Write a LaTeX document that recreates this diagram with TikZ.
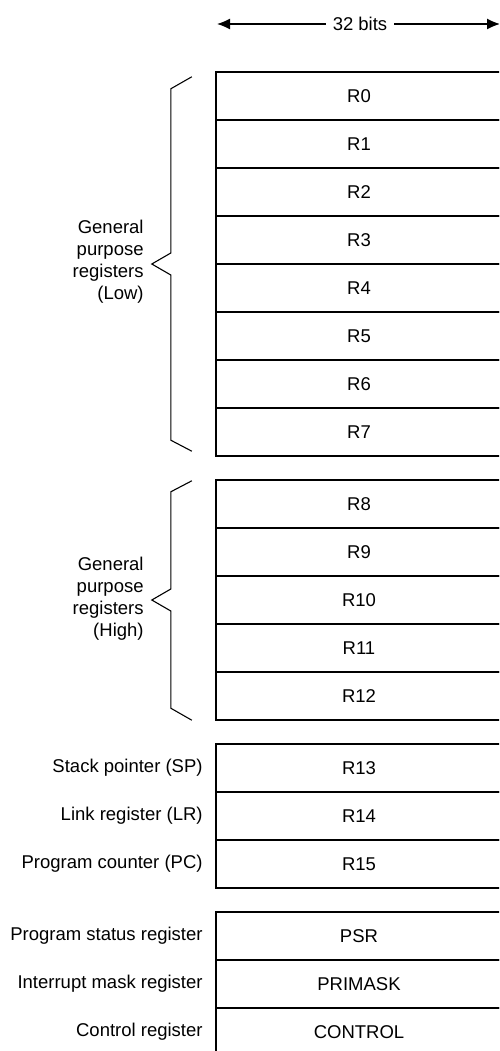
\documentclass[tikz,border=0pt]{standalone}
\usepackage{fontspec}
\setmainfont{Liberation Sans}
\usetikzlibrary{calc,positioning,arrows.meta}

\tikzset{
  reg/.style={rectangle, draw=black, line width=2.4pt, minimum width=286pt, minimum height=48pt, inner sep=0pt},
  reglabel/.style={inner sep=0pt, anchor=east},
  brace/.style={draw=black, line width=1.1pt},
}

\begin{document}
\begin{tikzpicture}[x=1pt, y=-1pt, font=\fontsize{18.5}{22}\selectfont]

\useasboundingbox (0,0) rectangle (499,1051);
\clip (0,0) rectangle (499,1051);

% width arrow
\node[inner sep=7pt] (bits) at (360,24) {32 bits};
\coordinate (bitsleft) at (217,24);
\coordinate (bitsright) at (500,24);
\draw[line width=1.3pt, -{Latex[length=13pt, width=11pt]}] (bits) -- (bitsleft);
\draw[line width=1.3pt, -{Latex[length=13pt, width=11pt]}] (bits) -- (bitsright);

% low registers
\node[reg] (r0) at (359,96) {R0};
\node[reg] (r1) at ($(r0) + (0,48)$) {R1};
\node[reg] (r2) at ($(r1) + (0,48)$) {R2};
\node[reg] (r3) at ($(r2) + (0,48)$) {R3};
\node[reg] (r4) at ($(r3) + (0,48)$) {R4};
\node[reg] (r5) at ($(r4) + (0,48)$) {R5};
\node[reg] (r6) at ($(r5) + (0,48)$) {R6};
\node[reg] (r7) at ($(r6) + (0,48)$) {R7};

% high registers
\node[reg] (r8) at ($(r7) + (0,72)$) {R8};
\node[reg] (r9) at ($(r8) + (0,48)$) {R9};
\node[reg] (r10) at ($(r9) + (0,48)$) {R10};
\node[reg] (r11) at ($(r10) + (0,48)$) {R11};
\node[reg] (r12) at ($(r11) + (0,48)$) {R12};

% special registers
\node[reg] (r13) at ($(r12) + (0,72)$) {R13};
\node[reg] (r14) at ($(r13) + (0,48)$) {R14};
\node[reg] (r15) at ($(r14) + (0,48)$) {R15};

\node[reg] (psr) at ($(r15) + (0,72)$) {PSR};
\node[reg] (primask) at ($(psr) + (0,48)$) {PRIMASK};
\node[reg] (control) at ($(primask) + (0,48)$) {CONTROL};

% labels
\node[reglabel, left=12pt of r13] (sp) {Stack pointer (SP)};
\node[reglabel, left=12pt of r14] (lr) {Link register (LR)};
\node[reglabel, left=12pt of r15] (pc) {Program counter (PC)};
\node[reglabel, left=12pt of psr] (psrlabel) {Program status register};
\node[reglabel, left=12pt of primask] (primasklabel) {Interrupt mask register};
\node[reglabel, left=12pt of control] (controllabel) {Control register};

% braces
\coordinate (lowmid) at ($(r0.north west)!0.5!(r7.south west) + (-63,0)$);
\draw[brace] ($(r0.north west) + (-23,6)$) -- ($(r0.north west) + (-44,18)$)
  -- ($(lowmid) + (19,-11)$) -- (lowmid) -- ($(lowmid) + (19,11)$)
  -- ($(r7.south west) + (-44,-17)$) -- ($(r7.south west) + (-23,-6)$);
\node[reglabel, align=right] (lowlabel) at ($(lowmid) + (-8,-2)$) {General\\purpose\\registers\\(Low)};

\coordinate (highmid) at ($(r8.north west)!0.5!(r12.south west) + (-63,0)$);
\draw[brace] ($(r8.north west) + (-23,2)$) -- ($(r8.north west) + (-44,13)$)
  -- ($(highmid) + (19,-11)$) -- (highmid) -- ($(highmid) + (19,11)$)
  -- ($(r12.south west) + (-44,-13)$) -- ($(r12.south west) + (-23,-1)$);
\node[reglabel, align=right] (highlabel) at ($(highmid) + (-8,-1)$) {General\\purpose\\registers\\(High)};

\end{tikzpicture}
\end{document}
